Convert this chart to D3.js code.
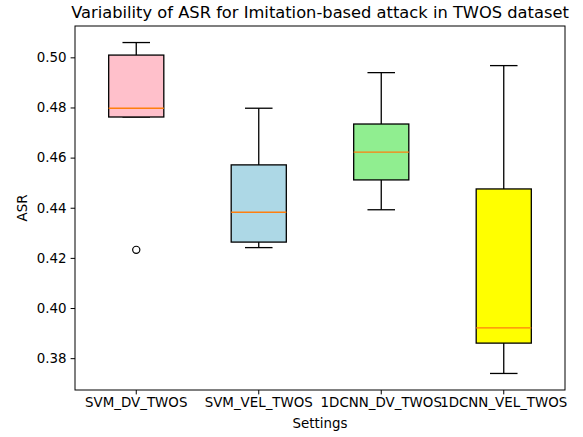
<!DOCTYPE html>
<html>
<head>
<meta charset="utf-8">
<script src="https://cdn.jsdelivr.net/npm/d3@7"></script>
<style>
  body { margin: 0; background: #fff; }
  svg text { font-family: "DejaVu Sans", sans-serif; fill: #000; }
</style>
</head>
<body>
<div id="chart"></div>
<script>
// box stats
var settings = ['SVM_DV_TWOS', 'SVM_VEL_TWOS', '1DCNN_DV_TWOS', '1DCNN_VEL_TWOS'];
var whiskerLow = [0.4762, 0.4241, 0.4392, 0.3739];
var q1 = [0.4762, 0.4263, 0.4511, 0.3860];
var medians = [0.4797, 0.4382, 0.4622, 0.3921];
var q3 = [0.5009, 0.4571, 0.4734, 0.4475];
var whiskerHigh = [0.5059, 0.4797, 0.4939, 0.4967];
var outliers = [[0.4232], [], [], []];
var boxColors = ['pink', 'lightblue', 'lightgreen', 'yellow'];
var yTicks = [0.38, 0.40, 0.42, 0.44, 0.46, 0.48, 0.50];

var width = 583, height = 437;
var margin = {top: 26, right: 18, bottom: 47, left: 75};
var w = width - margin.left - margin.right;
var h = height - margin.top - margin.bottom;
var tickFont = '13.4px';

var svg = d3.select('#chart').append('svg')
    .attr('width', width)
    .attr('height', height);

var g = svg.append('g')
    .attr('transform', 'translate(' + margin.left + ',' + margin.top + ')');

// x scale - matplotlib positions 1..4, xlim 0.5..4.5
var xScale = d3.scaleBand()
    .domain(settings)
    .range([0, w]);

var yScale = d3.scaleLinear()
    .domain([0.3673, 0.5125])
    .range([h, 0]);

var boxW = xScale.bandwidth() * 0.45;
var capW = boxW / 2;

var data = settings.map(function (s, i) {
    return {
        key: s, lo: whiskerLow[i], q1: q1[i], med: medians[i],
        q3: q3[i], hi: whiskerHigh[i], out: outliers[i], color: boxColors[i]
    };
});

var boxes = g.selectAll('.box').data(data).enter().append('g')
    .attr('class', 'box')
    .attr('transform', function (d) {
        return 'translate(' + (xScale(d.key) + xScale.bandwidth() / 2) + ',0)';
    });

// whiskers
boxes.append('line')
    .attr('x1', 0).attr('x2', 0)
    .attr('y1', function (d) { return yScale(d.q3); })
    .attr('y2', function (d) { return yScale(d.hi); })
    .attr('stroke', '#000').attr('stroke-width', 1.3);
boxes.append('line')
    .attr('x1', 0).attr('x2', 0)
    .attr('y1', function (d) { return yScale(d.q1); })
    .attr('y2', function (d) { return yScale(d.lo); })
    .attr('stroke', '#000').attr('stroke-width', 1.3);

// caps
boxes.selectAll('.cap').data(function (d) { return [d.lo, d.hi]; })
    .enter().append('line')
    .attr('class', 'cap')
    .attr('x1', -capW / 2).attr('x2', capW / 2)
    .attr('y1', function (v) { return yScale(v); })
    .attr('y2', function (v) { return yScale(v); })
    .attr('stroke', '#000').attr('stroke-width', 1.3);

// box
boxes.append('rect')
    .attr('x', -boxW / 2)
    .attr('width', boxW)
    .attr('y', function (d) { return yScale(d.q3); })
    .attr('height', function (d) { return yScale(d.q1) - yScale(d.q3); })
    .attr('fill', function (d) { return d.color; })
    .attr('stroke', '#000').attr('stroke-width', 1.3);

// median
boxes.append('line')
    .attr('x1', -boxW / 2).attr('x2', boxW / 2)
    .attr('y1', function (d) { return yScale(d.med); })
    .attr('y2', function (d) { return yScale(d.med); })
    .attr('stroke', '#ff7f0e').attr('stroke-width', 1.3);

// fliers
boxes.selectAll('.flier').data(function (d) { return d.out; })
    .enter().append('circle')
    .attr('class', 'flier')
    .attr('cx', 0)
    .attr('cy', function (v) { return yScale(v); })
    .attr('r', 3.6)
    .attr('fill', 'none')
    .attr('stroke', '#000').attr('stroke-width', 1.2);

// axes
var xAxis = g.append('g')
    .attr('transform', 'translate(0,' + h + ')')
    .call(d3.axisBottom(xScale).tickSizeOuter(0).tickSize(4.4).tickPadding(3.5));
var yAxis = g.append('g')
    .call(d3.axisLeft(yScale).tickValues(yTicks).tickFormat(d3.format('.2f'))
        .tickSizeOuter(0).tickSize(4.4).tickPadding(4));

[xAxis, yAxis].forEach(function (ax) {
    ax.select('.domain').remove();
    ax.selectAll('.tick line').attr('stroke', '#000').attr('stroke-width', 1);
    ax.selectAll('.tick text').style('font-size', tickFont)
        .style('font-family', '"DejaVu Sans", sans-serif');
});

// frame
g.append('rect')
    .attr('width', w).attr('height', h)
    .attr('fill', 'none')
    .attr('stroke', '#000').attr('stroke-width', 1);

// title and labels
svg.append('text')
    .attr('x', margin.left + w / 2)
    .attr('y', 18)
    .attr('text-anchor', 'middle')
    .style('font-size', '16.3px')
    .text('Variability of ASR for Imitation-based attack in TWOS dataset');

svg.append('text')
    .attr('x', margin.left + w / 2)
    .attr('y', 428)
    .attr('text-anchor', 'middle')
    .style('font-size', tickFont)
    .text('Settings');

svg.append('text')
    .attr('transform', 'translate(27,' + (margin.top + h / 2) + ') rotate(-90)')
    .attr('text-anchor', 'middle')
    .style('font-size', tickFont)
    .text('ASR');
</script>
</body>
</html>
